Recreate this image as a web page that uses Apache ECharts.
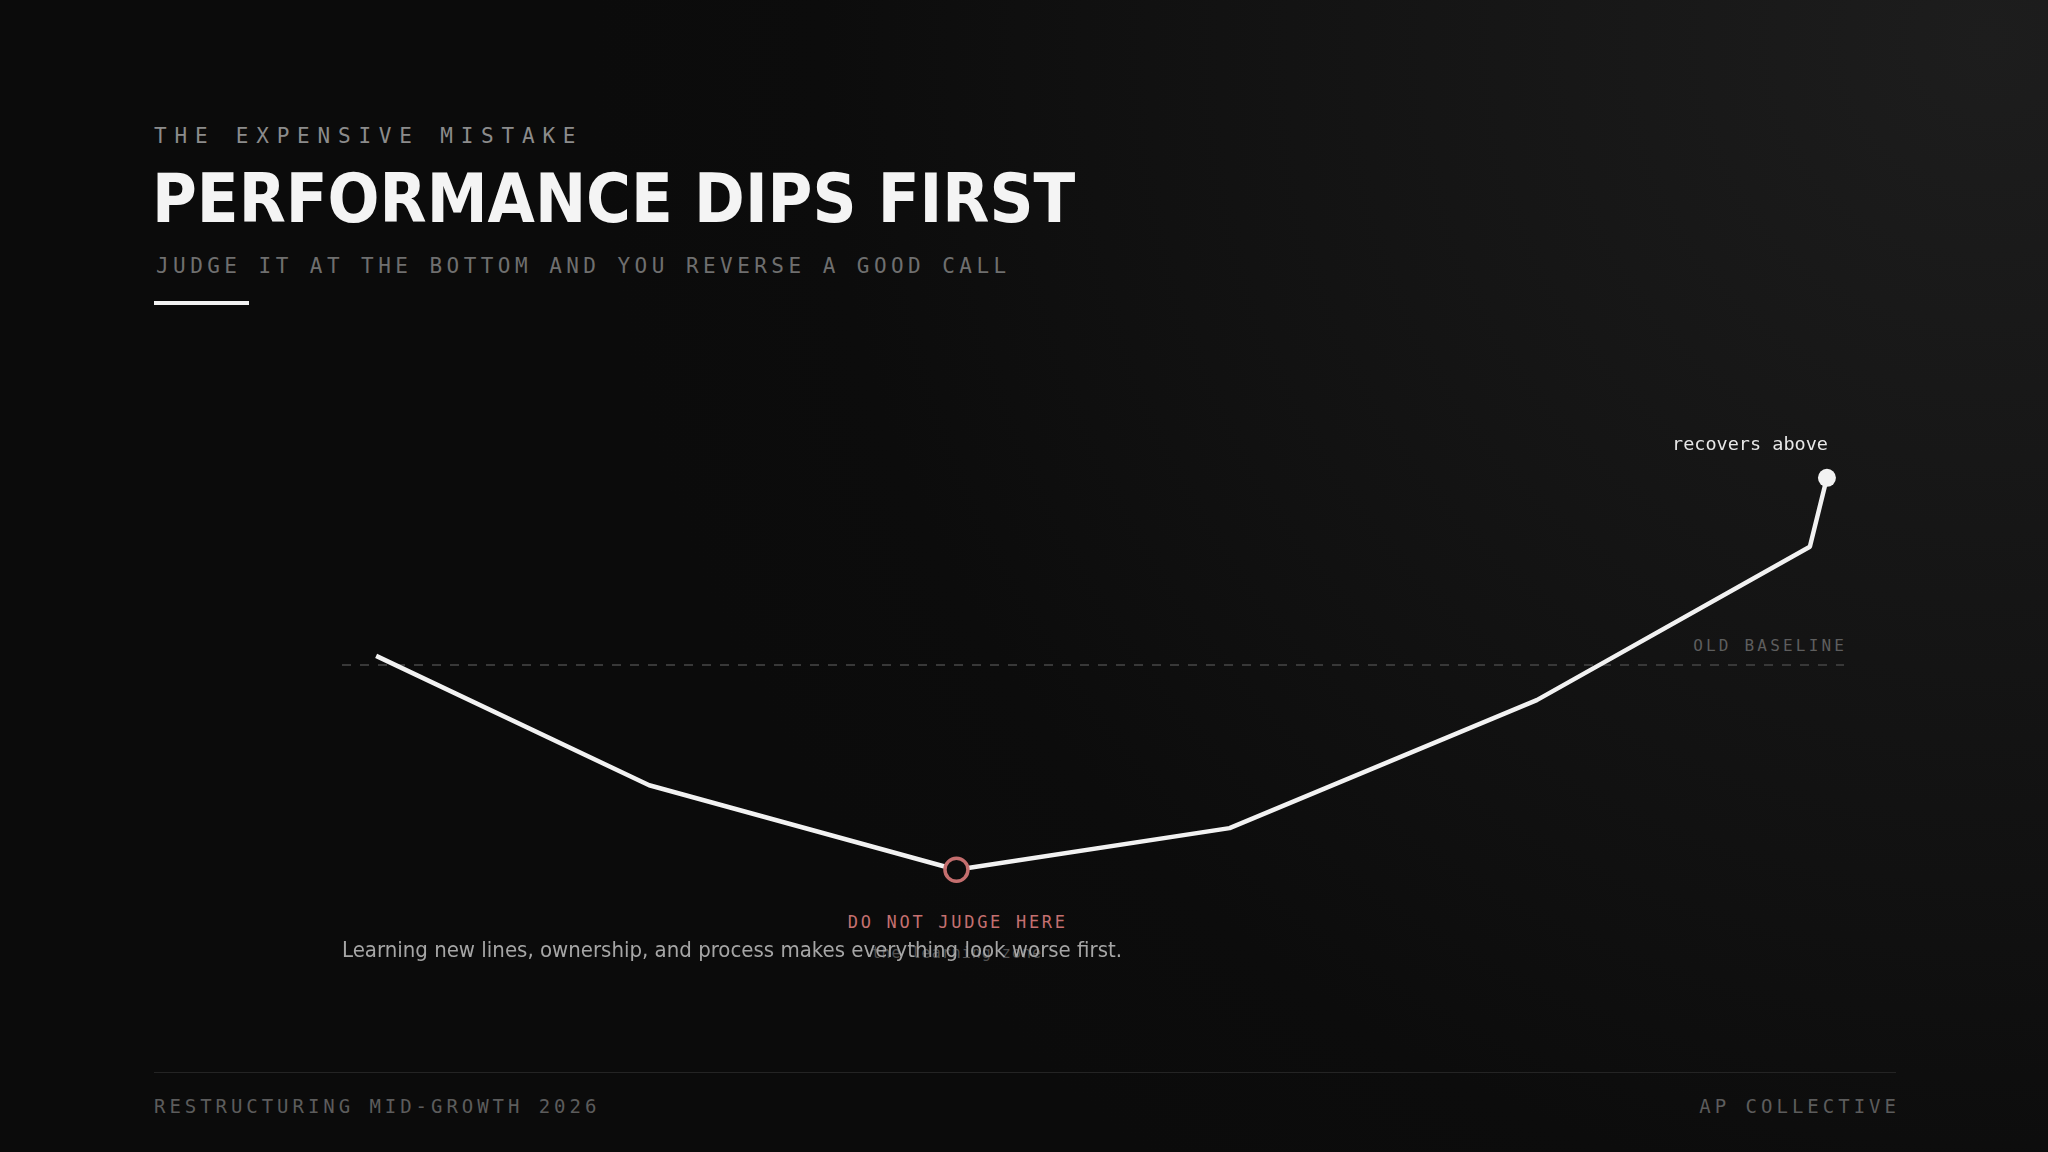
<!DOCTYPE html>
<html><head><meta charset="utf-8">
<script src="https://cdn.jsdelivr.net/npm/echarts@6/dist/echarts.min.js"></script>
<style>
html,body{margin:0;padding:0;width:2048px;height:1152px;overflow:hidden;background:#0b0b0b;}
#bg{position:absolute;left:0;top:0;width:2048px;height:1152px;
  background:radial-gradient(circle at 1990px 40px, #1d1d1d 0px, #171717 420px, #111111 840px, #0c0c0c 1170px, #0b0b0b 1400px);}
#layer{position:absolute;left:0;top:0;width:2048px;height:1152px;}
#chart{position:absolute;left:0;top:0;width:2048px;height:1152px;}
.t{position:absolute;white-space:nowrap;font-family:'DejaVu Sans Mono',monospace;line-height:1;}
</style></head>
<body>
<div id="bg"></div>
<div id="layer"></div>
<div id="chart"></div>
<script>
// ---- content ----
const kicker = 'THE EXPENSIVE MISTAKE';
const title = 'PERFORMANCE DIPS FIRST';
const subtitle = 'JUDGE IT AT THE BOTTOM AND YOU REVERSE A GOOD CALL';
const footerLeft = 'RESTRUCTURING MID-GROWTH 2026';
const footerRight = 'AP COLLECTIVE';
// ---- data ----
const weeks = [0, 8, 17, 25, 34, 42, 42.5];
const performance = [101.4, 81.5, 68.5, 74.9, 94.6, 118.2, 128.8];
const baselineValue = 100;
const baselineLabel = 'OLD BASELINE';
const troughLabel = 'DO NOT JUDGE HERE';
const troughSub = 'the learning zone';
const endLabel = 'recovers above';
const note = 'Learning new lines, ownership, and process makes everything look worse first.';

const layer = document.getElementById('layer');
function addText(txt, css) {
  const d = document.createElement('div');
  d.className = 't';
  d.textContent = txt;
  Object.assign(d.style, css);
  layer.appendChild(d);
  return d;
}
function addBox(css) {
  const d = document.createElement('div');
  d.style.position = 'absolute';
  Object.assign(d.style, css);
  layer.appendChild(d);
}

// header
addText(kicker, {left:'154px', top:'126px', fontSize:'21px', letterSpacing:'7.8px', color:'#8c8c8c'});
addText(title, {left:'152px', top:'165px', fontSize:'68px', fontWeight:'bold', color:'#f4f4f4',
  fontFamily:"'DejaVu Sans Condensed','DejaVu Sans',sans-serif"});
addText(subtitle, {left:'156px', top:'256px', fontSize:'21px', letterSpacing:'4.45px', color:'#6f6f6f'});
addBox({left:'154px', top:'301px', width:'95px', height:'4px', background:'#f2f2f2'});
// footer
addBox({left:'154px', top:'1072px', width:'1742px', height:'1px', background:'#242424'});
addText(footerLeft, {left:'154px', top:'1097px', fontSize:'19px', letterSpacing:'3.95px', color:'#5c5c5c'});
addText(footerRight, {right:'152px', top:'1097px', fontSize:'19px', letterSpacing:'4px', marginRight:'-4px', color:'#5c5c5c'});

const chart = echarts.init(document.getElementById('chart'), null, {renderer:'canvas'});
const lineData = weeks.map((w, i) => [w, performance[i]]);
let troughIdx = 0;
performance.forEach((v, i) => { if (v < performance[troughIdx]) troughIdx = i; });
const lastIdx = performance.length - 1;

chart.setOption({
  backgroundColor: 'transparent',
  animation: false,
  grid: {left: 342, right: 204, top: 340, bottom: 162},
  xAxis: {type:'value', min:-1, max:43, show:false},
  yAxis: {type:'value', min:50, max:150, show:false},
  graphic: [{
    type:'text', left: 342, top: 940,
    style:{text: note, fill:'#a6a6a6', font:"22px 'DejaVu Sans Condensed', 'DejaVu Sans', sans-serif"}
  }],
  series: [
    {
      type:'line', data: lineData, symbol:'none', z: 3,
      lineStyle:{color:'#f2f2f2', width:4.5},
      markLine:{
        silent:true, symbol:'none', z: 1,
        label:{show:false},
        lineStyle:{color:'#383838', width:2, type:[9,9]},
        data:[{yAxis: baselineValue}]
      }
    },
    {
      type:'scatter', z: 5,
      data:[lineData[troughIdx]],
      symbol:'circle', symbolSize:23,
      itemStyle:{color:'#0c0c0c', borderColor:'#c46e6e', borderWidth:3.5, opacity:1}
    },
    {
      type:'scatter', z: 5,
      data:[lineData[lastIdx]],
      symbol:'circle', symbolSize:18,
      itemStyle:{color:'#f2f2f2', opacity:1},
      label:{show:true, formatter: endLabel, position:'top', align:'right', distance:14,
        offset:[1,0],
        color:'#e8e8e8', fontFamily:'DejaVu Sans Mono', fontSize:18.5}
    }
  ]
});

// annotations tied to data positions
const tp = chart.convertToPixel({gridIndex:0}, lineData[troughIdx]);
const a1 = addText(troughLabel, {top:(tp[1]+44)+'px', fontSize:'17px', letterSpacing:'2.7px', color:'#c47070'});
a1.style.left = (tp[0] - (a1.offsetWidth - 2.7)/2) + 'px';
const a2 = addText(troughSub, {top:(tp[1]+76)+'px', fontSize:'15px', letterSpacing:'1px', color:'#525252'});
a2.style.left = (tp[0] - (a2.offsetWidth - 1)/2) + 'px';
const bp = chart.convertToPixel({gridIndex:0}, [43, baselineValue]);
const a3 = addText(baselineLabel, {top:(bp[1]-27)+'px', fontSize:'16px', letterSpacing:'3.2px', color:'#5e5e5e'});
a3.style.left = (bp[0] - a3.offsetWidth + 3.2) + 'px';
</script>
</body></html>
